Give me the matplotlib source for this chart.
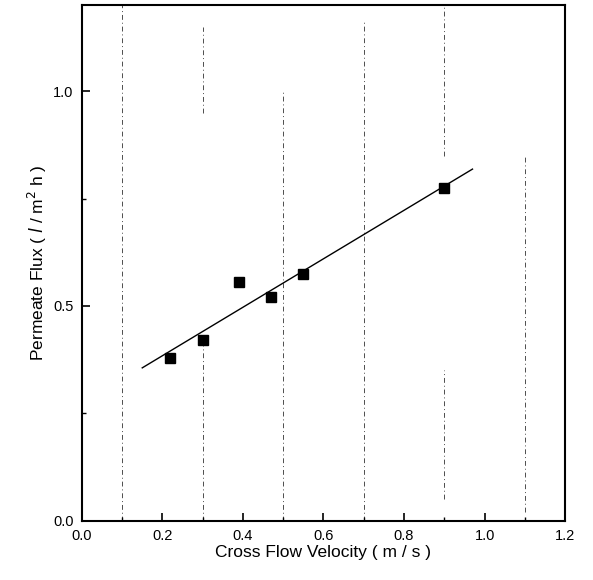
import numpy as np
import matplotlib.pyplot as plt

plt.rcParams['font.family'] = ['Liberation Sans', 'DejaVu Sans']

# measured points
velocity = [0.22, 0.30, 0.39, 0.47, 0.55, 0.90]
flux = [0.38, 0.42, 0.555, 0.52, 0.575, 0.775]

# range of the fitted line
fit_x = [0.15, 0.97]

# faint vertical dashed lines from the scan (x, y-from, y-to)
scan_lines = [(0.1, 0.0, 1.2), (0.3, 0.0, 0.42), (0.3, 0.95, 1.15),
              (0.5, 0.0, 1.0), (0.7, 0.0, 1.16), (0.9, 0.85, 1.2),
              (0.9, 0.05, 0.35), (1.1, 0.02, 0.85)]

fig = plt.figure(figsize=(5.93, 5.80), dpi=100)
ax = fig.add_axes([0.138, 0.102, 0.815, 0.889])

for x, y0, y1 in scan_lines:
    ax.plot([x, x], [y0, y1], color='0.3', lw=0.7, ls=(0, (5, 3, 1, 3)), zorder=1)

slope, icpt = np.polyfit(velocity, flux, 1)
xx = np.array(fit_x)
ax.plot(xx, icpt + slope * xx, color='black', lw=1.0, zorder=2)
ax.plot(velocity, flux, 's', color='black', ms=7, zorder=3)

ax.set_xlim(0.0, 1.2)
ax.set_ylim(0.0, 1.2)
ax.set_xticks(np.arange(0, 1.21, 0.2))
ax.set_xticks(np.arange(0.1, 1.2, 0.2), minor=True)
ax.set_yticks([0.0, 0.5, 1.0])
ax.set_yticks([0.25, 0.75], minor=True)
ax.tick_params(direction='in', which='major', length=6, width=1.2,
               labelsize=10.5, pad=6)
ax.tick_params(direction='in', which='minor', length=3, width=1.0)
for s in ax.spines.values():
    s.set_linewidth(1.5)

ax.set_xlabel('Cross Flow Velocity ( m / s )', fontsize=12.5, labelpad=1)
ax.set_ylabel('Permeate Flux ( $\\it{l}$ / m$^2$ h )', fontsize=12.5, labelpad=3)

fig.savefig('out.png', dpi=100)
